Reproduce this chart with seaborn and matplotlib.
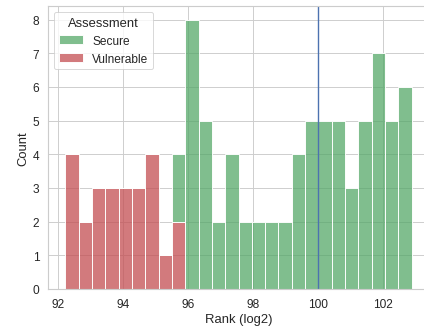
import numpy as np
import pandas as pd
import matplotlib
matplotlib.use("Agg")
import matplotlib.pyplot as plt
import seaborn as sns

# Histogram bin range (log2 rank) and per-bin counts for each assessment class
bin_lo, bin_hi, n_bins = 92.22, 102.89, 26
secure_counts = [0, 0, 0, 0, 0, 0, 0, 0, 2, 8, 5, 2, 4, 2, 2, 2, 2, 4, 5, 5, 5, 3, 5, 7, 5, 6]
vulnerable_counts = [4, 2, 3, 3, 3, 3, 4, 1, 2, 0, 0, 0, 0, 0, 0, 0, 0, 0, 0, 0, 0, 0, 0, 0, 0, 0]
threshold = 100

edges = np.linspace(bin_lo, bin_hi, n_bins + 1)
centers = (edges[:-1] + edges[1:]) / 2

df = pd.concat([
    pd.DataFrame({"Rank (log2)": centers, "n": secure_counts, "Assessment": "Secure"}),
    pd.DataFrame({"Rank (log2)": centers, "n": vulnerable_counts, "Assessment": "Vulnerable"}),
], ignore_index=True)

sns.set_theme(style="whitegrid", font_scale=1.18)
plt.rcParams["font.family"] = ["Liberation Sans", "DejaVu Sans"]

deep = sns.color_palette("deep")
palette = {"Secure": deep[2], "Vulnerable": deep[3]}

fig = plt.figure(figsize=(6.4, 5.026), dpi=66.25)
ax = fig.add_axes([48 / 424, 43 / 333, 381 / 424, 283 / 333])

sns.histplot(data=df, x="Rank (log2)", weights="n", hue="Assessment",
             hue_order=["Secure", "Vulnerable"], palette=palette,
             multiple="stack", bins=n_bins, binrange=(bin_lo, bin_hi), ax=ax)
ax.axvline(threshold, color=deep[0])
sns.move_legend(ax, "upper left")

fig.savefig("out.png", dpi=66.25)
